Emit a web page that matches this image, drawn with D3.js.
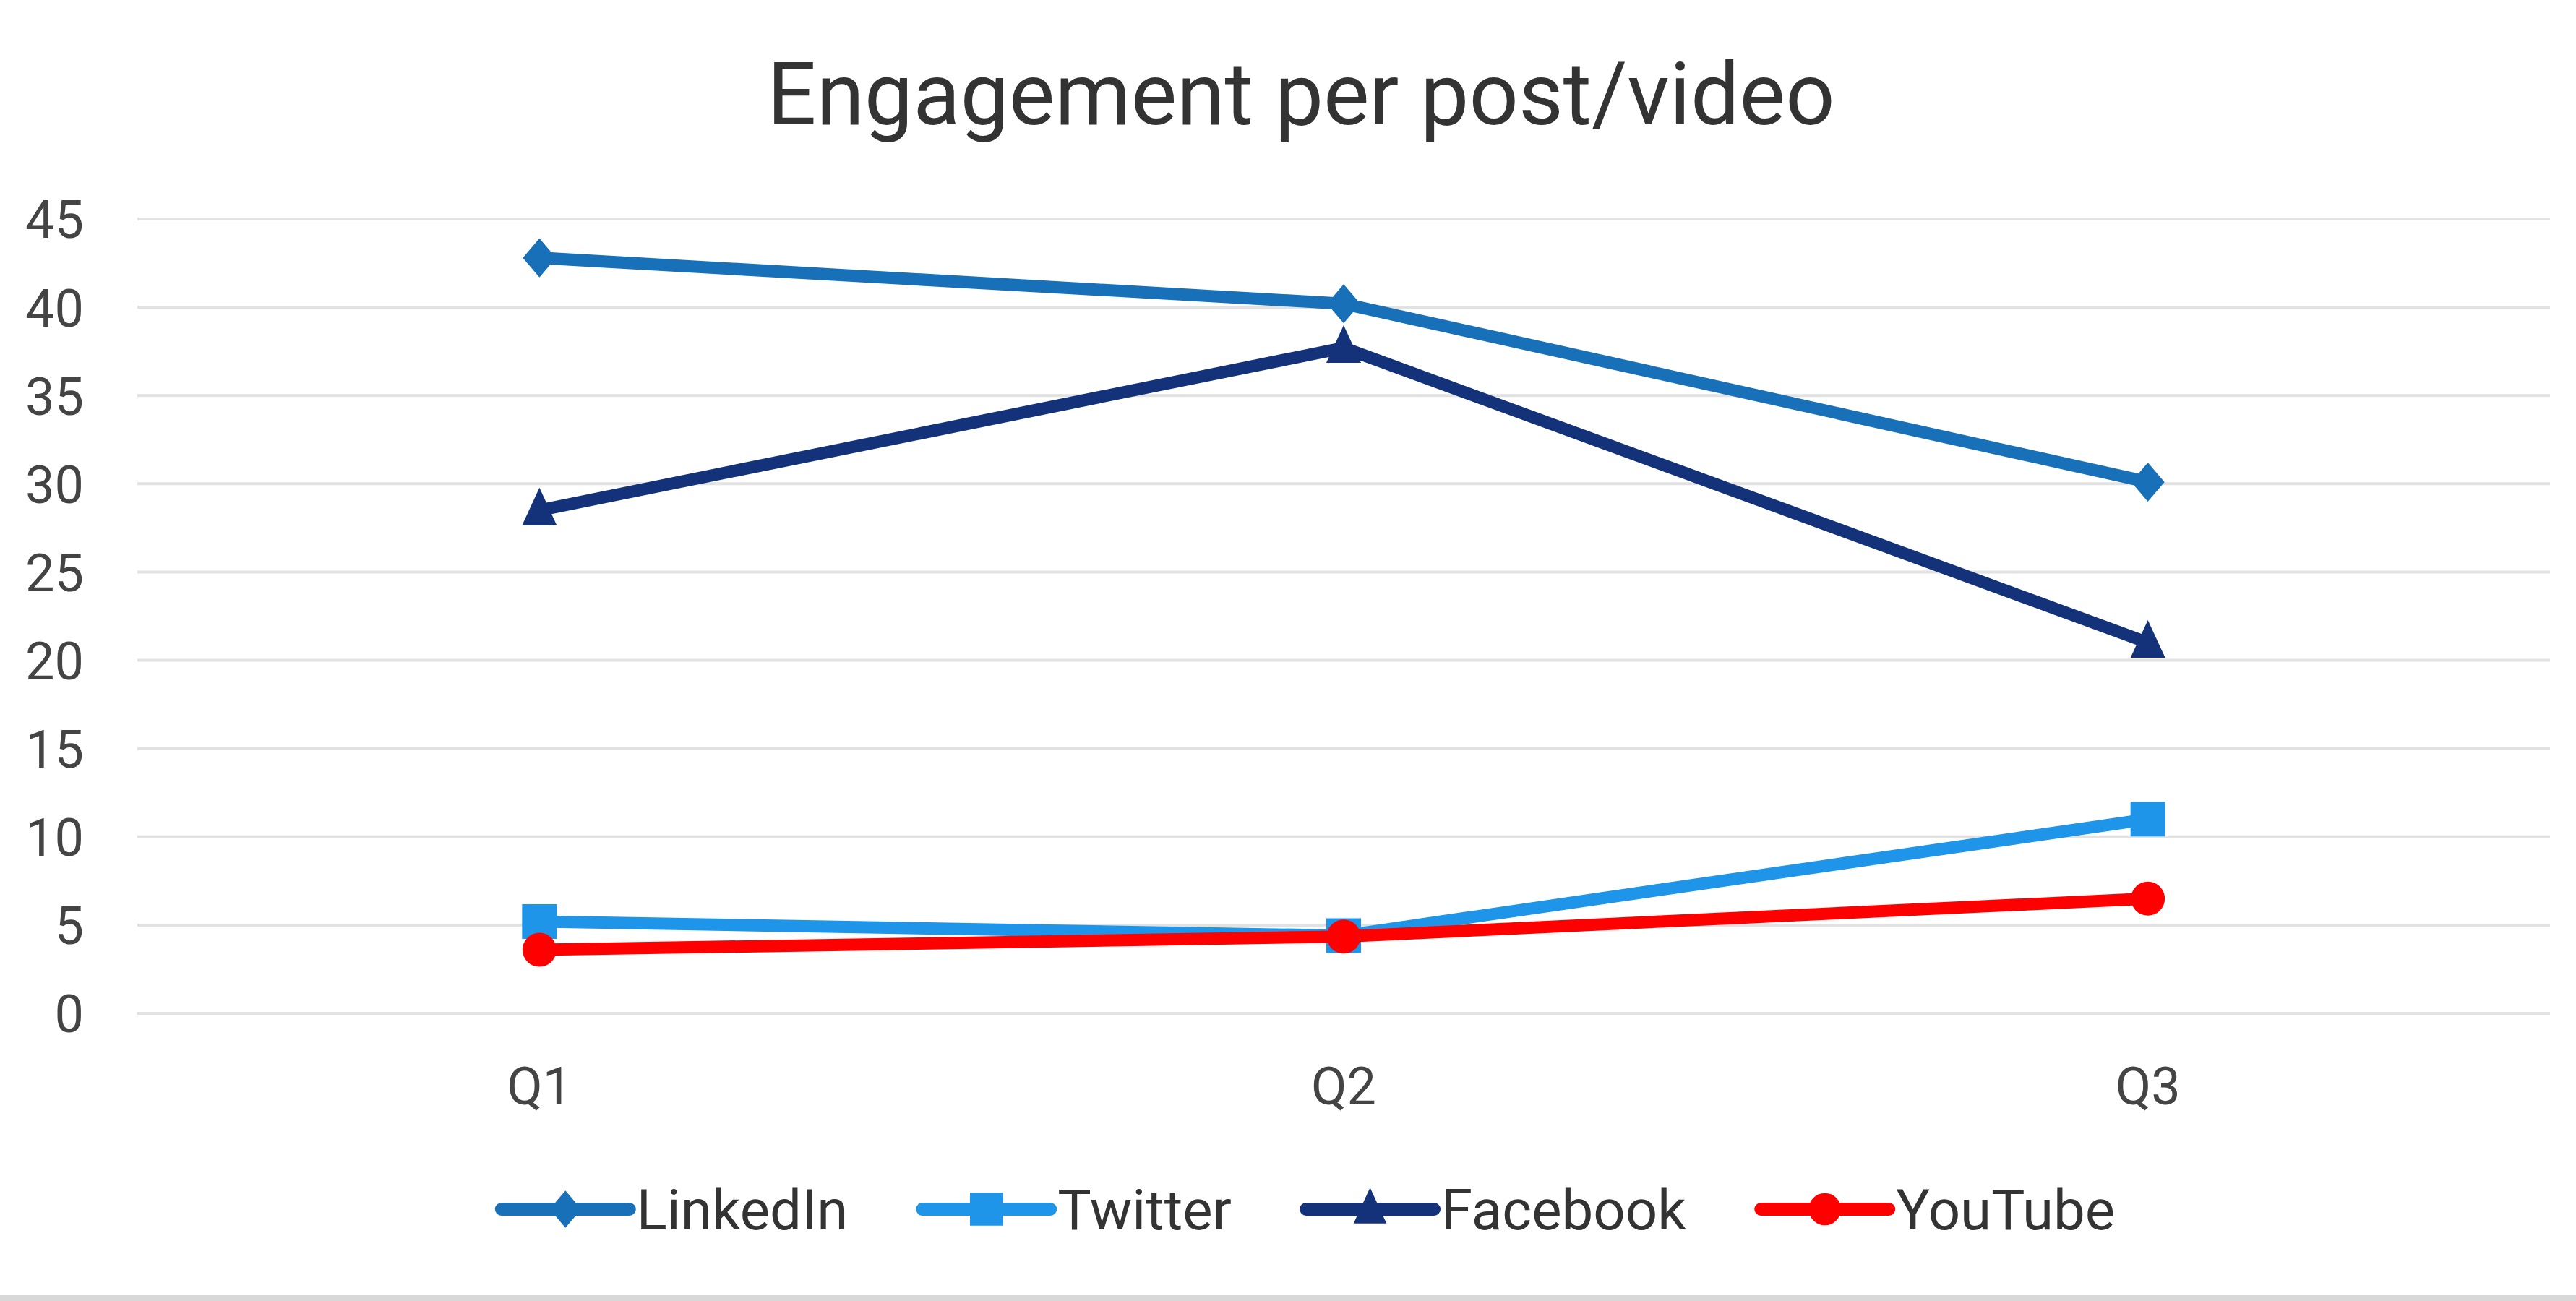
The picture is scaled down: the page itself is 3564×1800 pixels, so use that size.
<!DOCTYPE html>
<html>
<head>
<meta charset="utf-8">
<script src="https://cdn.jsdelivr.net/npm/d3@7"></script>
<style>
html,body{margin:0;padding:0;background:#fff;}
svg{display:block;}
</style>
</head>
<body>
<svg id="chart" width="3564" height="1800"></svg>
<script>
const title = "Engagement per post/video";
const categories = ["Q1", "Q2", "Q3"];
const yTicks = [0, 5, 10, 15, 20, 25, 30, 35, 40, 45];
const seriesNames = ["LinkedIn", "Twitter", "Facebook", "YouTube"];
const seriesColors = ["#1870b8", "#1e95e8", "#13327a", "#ff0000"];
const seriesMarkers = ["diamond", "square", "triangle", "circle"];
const linkedinValues = [42.8, 40.2, 30.1];
const twitterValues = [5.2, 4.4, 11.0];
const facebookValues = [28.5, 37.7, 21.0];
const youtubeValues = [3.6, 4.35, 6.5];

(function () {
const series = seriesNames.map((name, i) => ({
  name,
  color: seriesColors[i],
  marker: seriesMarkers[i],
  values: [linkedinValues, twitterValues, facebookValues, youtubeValues][i]
}));

const W = 3564, H = 1800;
const svg = d3.select("#chart");
svg.append("rect").attr("width", W).attr("height", H).attr("fill", "#fff");

const pLeft = 190, pRight = 3528, pTop = 303, pBottom = 1402;
const x = d3.scaleBand().domain(categories).range([pLeft, pRight]);
const y = d3.scaleLinear().domain([0, 45]).range([pBottom, pTop]);
const cx = c => x(c) + x.bandwidth() / 2;

// title
svg.append("text")
  .attr("x", 1800).attr("y", 172)
  .attr("text-anchor", "middle")
  .attr("font-family", "Roboto")
  .attr("font-size", 120)
  .attr("fill", "#333")
  .text(title);

// gridlines
svg.append("g").selectAll("line").data(yTicks).join("line")
  .attr("x1", pLeft).attr("x2", pRight)
  .attr("y1", d => y(d)).attr("y2", d => y(d))
  .attr("stroke", "#e2e2e2").attr("stroke-width", 4);

// y axis labels
const yAxis = d3.axisLeft(y).tickValues(yTicks).tickSize(0).tickPadding(0);
const gy = svg.append("g").attr("transform", `translate(116,0)`).call(yAxis);
gy.select(".domain").remove();
gy.selectAll("text")
  .attr("font-family", "Roboto").attr("font-size", 72).attr("fill", "#444")
  .attr("dy", "0.36em");

// x axis labels
const xAxis = d3.axisBottom(x).tickSize(0).tickPadding(0);
const gx = svg.append("g").attr("transform", `translate(0,1528)`).call(xAxis);
gx.select(".domain").remove();
gx.selectAll("text")
  .attr("font-family", "Roboto").attr("font-size", 72).attr("fill", "#444")
  .attr("dy", 0);

function markerPath(type, s) {
  if (type === "diamond") {
    const w = 23 * s, h = 27 * s;
    return `M0,${-h}L${w},0L0,${h}L${-w},0Z`;
  }
  if (type === "square") {
    const a = 24 * s;
    return `M${-a},${-a}H${a}V${a}H${-a}Z`;
  }
  if (type === "triangle") {
    const w = 24 * s, h = 52 * s;
    return `M0,${-h * 0.6}L${w},${h * 0.4}L${-w},${h * 0.4}Z`;
  }
  const r = 23.5 * s;
  return `M${r},0A${r},${r} 0 1,1 ${-r},0A${r},${r} 0 1,1 ${r},0Z`;
}

const line = d3.line().x((d, i) => cx(categories[i])).y(d => y(d));

const gs = svg.append("g").selectAll("g").data(series).join("g");
gs.append("path")
  .attr("d", d => line(d.values))
  .attr("fill", "none")
  .attr("stroke", d => d.color)
  .attr("stroke-width", 17)
  .attr("stroke-linejoin", "round")
  .attr("stroke-linecap", "round");
gs.each(function (s) {
  d3.select(this).selectAll("path.m").data(s.values).join("path")
    .attr("class", "m")
    .attr("transform", (d, i) => `translate(${cx(categories[i])},${y(d)})`)
    .attr("d", markerPath(s.marker, 1))
    .attr("fill", s.color);
});

// legend
const legendY = 1673, lineLen = 177, textGap = 10, itemGap = 103, legendFont = 78;
const lg = svg.append("g");
const items = lg.selectAll("g").data(series).join("g");
items.append("line")
  .attr("x1", 0).attr("x2", lineLen).attr("y1", 0).attr("y2", 0)
  .attr("stroke", d => d.color).attr("stroke-width", 18).attr("stroke-linecap", "round");
items.append("path")
  .attr("transform", `translate(${lineLen / 2},0)`)
  .attr("d", d => markerPath(d.marker, 0.95))
  .attr("fill", d => d.color);
items.append("text")
  .attr("x", lineLen + textGap).attr("y", 0).attr("dy", "0.36em")
  .attr("font-family", "Roboto").attr("font-size", legendFont).attr("fill", "#333")
  .text(d => d.name);
const widths = [];
items.each(function () { widths.push(this.getBBox().width); });
const total = d3.sum(widths) + itemGap * (widths.length - 1);
let xPos = 1810 - total / 2;
items.attr("transform", (d, i) => {
  const t = `translate(${xPos},${legendY})`;
  xPos += widths[i] + itemGap;
  return t;
});

// bottom border
svg.append("rect").attr("x", 0).attr("y", 1792).attr("width", W).attr("height", 8).attr("fill", "#d8d8d8");
})();
</script>
</body>
</html>
